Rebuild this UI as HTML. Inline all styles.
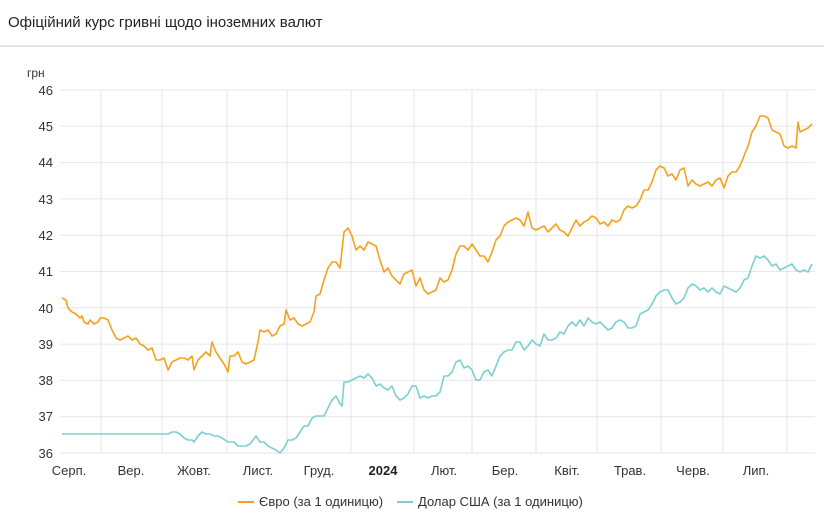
<!DOCTYPE html>
<html><head><meta charset="utf-8"><style>
body{margin:0;background:#fff;width:824px;height:509px;overflow:hidden;font-family:"Liberation Sans",sans-serif}
</style></head><body>
<svg width="824" height="509" xmlns="http://www.w3.org/2000/svg" font-family="Liberation Sans, sans-serif">
<text x="8" y="27" font-size="15" fill="#222">Офіційний курс гривні щодо іноземних валют</text>
<rect x="0" y="45" width="824" height="2" fill="#e2e2e2"/>
<text x="27" y="77" font-size="12" fill="#333">грн</text>
<g stroke="#e6e6e6" stroke-width="1">
<line x1="60" y1="90" x2="815" y2="90"/><line x1="60" y1="126.3" x2="815" y2="126.3"/><line x1="60" y1="162.6" x2="815" y2="162.6"/><line x1="60" y1="198.9" x2="815" y2="198.9"/><line x1="60" y1="235.2" x2="815" y2="235.2"/><line x1="60" y1="271.5" x2="815" y2="271.5"/><line x1="60" y1="307.8" x2="815" y2="307.8"/><line x1="60" y1="344.1" x2="815" y2="344.1"/><line x1="60" y1="380.4" x2="815" y2="380.4"/><line x1="60" y1="416.7" x2="815" y2="416.7"/><line x1="60" y1="453" x2="815" y2="453"/>
<line x1="101" y1="90" x2="101" y2="453"/><line x1="162" y1="90" x2="162" y2="453"/><line x1="227" y1="90" x2="227" y2="453"/><line x1="287" y1="90" x2="287" y2="453"/><line x1="351" y1="90" x2="351" y2="453"/><line x1="414" y1="90" x2="414" y2="453"/><line x1="472" y1="90" x2="472" y2="453"/><line x1="536" y1="90" x2="536" y2="453"/><line x1="597" y1="90" x2="597" y2="453"/><line x1="661" y1="90" x2="661" y2="453"/><line x1="723" y1="90" x2="723" y2="453"/><line x1="787" y1="90" x2="787" y2="453"/>
</g>
<g font-size="13" fill="#333" text-anchor="end">
<text x="53" y="95">46</text><text x="53" y="131">45</text><text x="53" y="167">44</text><text x="53" y="204">43</text><text x="53" y="240">42</text><text x="53" y="276">41</text><text x="53" y="313">40</text><text x="53" y="349">39</text><text x="53" y="385">38</text><text x="53" y="421">37</text><text x="53" y="458">36</text>
</g>
<g font-size="13" fill="#333" text-anchor="middle">
<text x="69" y="475">Серп.</text><text x="131" y="475">Вер.</text><text x="194" y="475">Жовт.</text><text x="258" y="475">Лист.</text><text x="319" y="475">Груд.</text><text x="383" y="475" font-weight="bold" fill="#222">2024</text><text x="444" y="475">Лют.</text><text x="505" y="475">Бер.</text><text x="567" y="475">Квіт.</text><text x="630" y="475">Трав.</text><text x="693" y="475">Черв.</text><text x="756" y="475">Лип.</text>
</g>
<polyline fill="none" stroke="#f4a21d" stroke-width="1.6" stroke-linejoin="round" points="62,298 66,300 68,308 72,312 76,314 80,318 82,316 84,322 88,324 90,320 94,324 98,322 100,318 104,318 108,320 112,330 116,338 120,340 124,338 128,336 132,340 136,338 140,344 144,346 148,350 152,348 156,360 160,360 164,358 168,370 172,362 176,360 180,358 184,358 188,360 192,356 194,370 198,360 202,356 206,352 210,356 212,342 216,352 220,358 224,364 228,372 230,356 234,356 238,352 242,362 246,364 250,362 254,360 258,342 260,330 264,332 268,330 272,336 276,334 280,326 284,324 286,310 290,320 294,318 298,324 302,326 306,324 310,322 314,312 316,296 320,294 324,280 328,268 332,262 336,262 340,268 344,232 348,228 352,236 356,250 360,246 364,250 368,242 372,244 376,246 380,260 384,272 388,268 392,276 396,280 400,284 404,274 408,272 412,270 416,286 420,278 424,290 428,294 432,292 436,290 440,278 444,282 448,280 452,270 456,254 460,246 464,246 468,250 472,244 476,250 480,256 484,256 488,262 492,252 496,240 500,236 504,226 508,222 512,220 516,218 520,220 524,226 528,212 532,228 536,230 540,228 544,226 548,232 552,228 556,224 560,230 564,232 568,236 572,228 576,220 580,226 584,222 588,220 592,216 596,218 600,224 604,222 608,226 612,220 616,222 620,220 624,210 628,206 632,208 636,206 640,200 644,190 648,190 652,182 656,170 660,166 664,168 668,176 672,174 676,180 680,170 684,168 688,186 692,180 696,184 700,186 704,184 708,182 712,186 716,180 720,178 724,188 728,176 732,172 736,172 740,166 744,156 748,146 752,132 756,126 760,116 764,116 768,118 772,130 776,132 780,134 784,146 788,148 792,146 796,148 798,122 800,132 804,130 808,128 812,124"/>
<polyline fill="none" stroke="#7ecfcf" stroke-width="1.6" stroke-linejoin="round" points="62,434 168,434 172,432 176,432 180,434 184,438 188,440 192,440 194,442 198,436 202,432 206,434 210,434 214,436 218,436 222,438 228,442 234,442 238,446 242,446 246,446 250,444 256,436 260,442 264,442 268,446 272,448 276,450 280,453 284,448 288,440 292,440 296,438 300,432 304,426 308,426 312,418 316,416 320,416 324,416 328,408 332,400 336,396 340,404 342,406 344,382 348,382 352,380 356,378 360,376 364,378 368,374 372,378 376,386 380,384 384,388 388,390 392,386 396,396 400,400 404,398 408,394 412,386 416,386 420,398 424,396 428,398 432,396 436,396 440,392 444,376 448,376 452,372 456,362 460,360 464,368 468,366 472,370 476,380 480,380 484,372 488,370 492,376 496,366 500,356 504,352 508,350 512,350 516,342 520,342 524,350 528,346 532,340 536,344 540,346 544,334 548,340 552,340 556,338 560,332 564,334 568,326 572,322 576,326 580,320 584,326 588,318 592,322 596,324 600,322 604,326 608,330 612,328 616,322 620,320 624,322 628,328 632,328 636,326 640,314 644,312 648,310 652,304 656,296 660,292 664,290 668,290 672,298 676,304 680,302 684,298 688,288 692,284 696,286 700,290 704,288 708,292 712,288 716,292 720,294 724,286 728,288 732,290 736,292 740,288 744,280 748,278 752,266 756,256 760,258 764,256 768,260 772,266 776,264 780,270 784,268 788,266 792,264 796,270 800,272 804,270 808,272 812,264"/>
<line x1="238" y1="502" x2="254" y2="502" stroke="#f4a21d" stroke-width="2"/>
<text x="259" y="506" font-size="13" fill="#333">Євро (за 1 одиницю)</text>
<line x1="397" y1="502" x2="413" y2="502" stroke="#7ecfcf" stroke-width="2"/>
<text x="418" y="506" font-size="13" fill="#333">Долар США (за 1 одиницю)</text>
</svg>
</body></html>
